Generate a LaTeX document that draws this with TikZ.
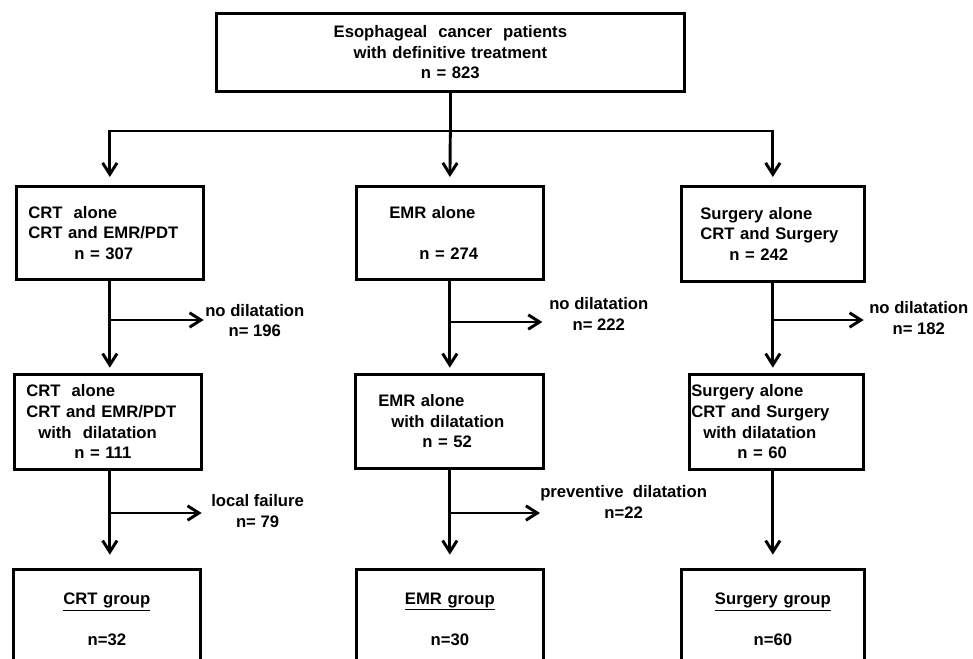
\documentclass[tikz,border=0pt]{standalone}
\usepackage{fontspec}
\setmainfont{Liberation Sans}
\usetikzlibrary{arrows.meta,positioning,calc}

\begin{document}
\begin{tikzpicture}[x=0.75pt,y=-0.75pt,
    every node/.style={font=\fontsize{12.5}{15.5}\selectfont\bfseries,inner sep=0pt},
    stagebox/.style 2 args={draw,line width=2pt,anchor=north west,align=left,
      text width=#1,minimum height=#2},
    sidelabel/.style={align=center,anchor=west},
    flow/.style={line width=2.2pt,-{Straight Barb[length=3mm,width=3.8mm]}},
    plain/.style={line width=2.2pt}]
  \useasboundingbox (0,0) rectangle (973,658);

  % top box
  \node[stagebox={351pt}{58.5pt},align=center] (pts) at (215,12)
    {Esophageal\ \ cancer\ \ patients\\with definitive treatment\\n = 823};

  % first row
  \node[stagebox={140.25pt}{69.75pt}] (crt1) at (15,185)
    {\hspace*{9pt}CRT\ \ alone\\\hspace*{9pt}CRT and EMR/PDT\\\hspace*{43.5pt}n = 307};
  \node[stagebox={140.25pt}{69.75pt}] (emr1) at (355,185)
    {\hspace*{24.75pt}EMR alone\\\mbox{}\\\hspace*{47.25pt}n = 274};
  \node[stagebox={137.25pt}{71.25pt}] (srg1) at (680,185)
    {\hspace*{14.25pt}Surgery alone\\\hspace*{14.25pt}CRT and Surgery\\\hspace*{36pt}n = 242};

  % second row
  \node[stagebox={140.25pt}{71.25pt}] (crt2) at (13,373)
    {\hspace*{9pt}CRT\ \ alone\\\hspace*{9pt}CRT and EMR/PDT\\\hspace*{18pt}with\ \ dilatation\\\hspace*{45pt}n = 111};
  \node[stagebox={141pt}{70.5pt}] (emr2) at (354,373)
    {\hspace*{17.25pt}EMR alone\\\hspace*{27pt}with dilatation\\\hspace*{50.25pt}n = 52};
  \node[stagebox={130.5pt}{71.25pt}] (srg2) at (688,373)
    {\hspace*{1.5pt}Surgery alone\\\hspace*{1.5pt}CRT and Surgery\\\hspace*{10.5pt}with dilatation\\\hspace*{36pt}n = 60};

  % groups (cut by the page edge)
  \node[stagebox={140.25pt}{75pt},align=center] (crtg) at (12,568)
    {\underline{CRT group}\\[15.5pt]n=32};
  \node[stagebox={140.25pt}{75pt},align=center] (emrg) at (355,568)
    {\underline{EMR group}\\[15.5pt]n=30};
  \node[stagebox={137.25pt}{75pt},align=center] (srgg) at (680,568)
    {\underline{Surgery group}\\[15.5pt]n=60};

  % excluded patients
  \node[sidelabel] (crtnd) at (205,320.5) {no dilatation\\n= 196};
  \node[sidelabel] (emrnd) at (549,314) {no dilatation\\n= 222};
  \node[sidelabel] (srgnd) at (869,318) {no dilatation\\n= 182};
  \node[sidelabel] (crtlf) at (211,511) {local failure\\n= 79};
  \node[sidelabel] (emrpv) at (540,502) {preventive\ \ dilatation\\n=22};

  % split below the top box
  \coordinate (split) at (pts.south |- 0,131);
  \draw[plain] (pts.south) -- (split);
  \draw[flow,shorten >=6pt] (split) -| (crt1.north);
  \draw[flow,shorten >=6pt] (split) -- (emr1.north);
  \draw[flow,shorten >=6pt] (split) -| (srg1.north);

  % columns
  \foreach \a/\b/\c in {crt1/crt2/crtg,emr1/emr2/emrg,srg1/srg2/srgg}{%
    \draw[flow,shorten >=4pt] (\a.south) -- (\a.south |- \b.north);
    \draw[flow,shorten >=10pt] (\a.south |- \b.south) -- (\a.south |- \c.north);
  }

  % side arrows
  \foreach \a/\lab/\y/\gap in {crt1/crtnd/320/1pt,emr1/emrnd/322/5pt,srg1/srgnd/320/4pt,
      crt1/crtlf/513/7pt,emr1/emrpv/513/0pt}{%
    \coordinate (br) at (\a.south |- 0,\y);
    \draw[flow,shorten >=\gap] (br) -- (br -| \lab.west);
  }
\end{tikzpicture}
\end{document}
